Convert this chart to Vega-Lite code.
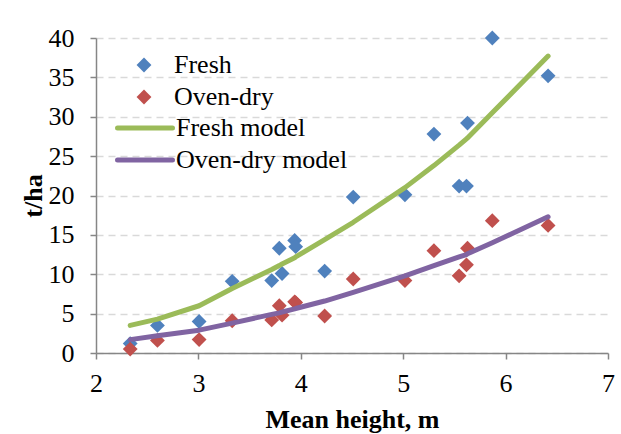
{
  "$schema": "https://vega.github.io/schema/vega-lite/v6.json",
  "autosize": "none",
  "width": 512,
  "height": 315,
  "padding": {"left": 96, "top": 38, "right": 13, "bottom": 81},
  "background": "white",
  "config": {
    "view": {"stroke": null},
    "font": "Liberation Serif",
    "axis": {
      "labelFont": "Liberation Serif",
      "labelFontSize": 26,
      "labelColor": "#000000",
      "labelFlush": false,
      "labelOverlap": false,
      "titleFont": "Liberation Serif",
      "titleFontSize": 26,
      "titleFontWeight": "bold",
      "titleColor": "#000000",
      "domainColor": "#868686",
      "domainWidth": 1.5,
      "tickColor": "#868686",
      "tickWidth": 1.5,
      "tickSize": 6
    },
    "legend": {
      "labelFont": "Liberation Serif",
      "labelFontSize": 26,
      "labelColor": "#000000",
      "labelLimit": 400,
      "padding": 0,
      "rowPadding": 6
    }
  },
  "datasets": {
    "obs": [
      {"h": 2.334, "v": 1.2, "s": "Fresh"},
      {"h": 2.60, "v": 3.5, "s": "Fresh"},
      {"h": 3.007, "v": 4.0, "s": "Fresh"},
      {"h": 3.33, "v": 9.1, "s": "Fresh"},
      {"h": 3.716, "v": 9.2, "s": "Fresh"},
      {"h": 3.79, "v": 13.3, "s": "Fresh"},
      {"h": 3.817, "v": 10.1, "s": "Fresh"},
      {"h": 3.94, "v": 14.3, "s": "Fresh"},
      {"h": 3.95, "v": 13.5, "s": "Fresh"},
      {"h": 4.233, "v": 10.4, "s": "Fresh"},
      {"h": 4.512, "v": 19.8, "s": "Fresh"},
      {"h": 5.017, "v": 20.1, "s": "Fresh"},
      {"h": 5.30, "v": 27.8, "s": "Fresh"},
      {"h": 5.546, "v": 21.2, "s": "Fresh"},
      {"h": 5.618, "v": 21.2, "s": "Fresh"},
      {"h": 5.628, "v": 29.2, "s": "Fresh"},
      {"h": 5.87, "v": 40.0, "s": "Fresh"},
      {"h": 6.415, "v": 35.2, "s": "Fresh"},
      {"h": 2.334, "v": 0.5, "s": "Oven-dry"},
      {"h": 2.60, "v": 1.6, "s": "Oven-dry"},
      {"h": 3.007, "v": 1.7, "s": "Oven-dry"},
      {"h": 3.33, "v": 4.1, "s": "Oven-dry"},
      {"h": 3.716, "v": 4.2, "s": "Oven-dry"},
      {"h": 3.79, "v": 6.0, "s": "Oven-dry"},
      {"h": 3.817, "v": 4.8, "s": "Oven-dry"},
      {"h": 3.94, "v": 6.5, "s": "Oven-dry"},
      {"h": 3.95, "v": 6.4, "s": "Oven-dry"},
      {"h": 4.233, "v": 4.7, "s": "Oven-dry"},
      {"h": 4.512, "v": 9.4, "s": "Oven-dry"},
      {"h": 5.017, "v": 9.2, "s": "Oven-dry"},
      {"h": 5.30, "v": 13.0, "s": "Oven-dry"},
      {"h": 5.546, "v": 9.8, "s": "Oven-dry"},
      {"h": 5.618, "v": 11.2, "s": "Oven-dry"},
      {"h": 5.628, "v": 13.3, "s": "Oven-dry"},
      {"h": 5.87, "v": 16.8, "s": "Oven-dry"},
      {"h": 6.415, "v": 16.2, "s": "Oven-dry"}
    ],
    "model": [
      {"h": 2.334, "v": 3.5, "s": "Fresh model"},
      {"h": 2.60, "v": 4.3, "s": "Fresh model"},
      {"h": 3.007, "v": 6.0, "s": "Fresh model"},
      {"h": 3.33, "v": 8.2, "s": "Fresh model"},
      {"h": 3.716, "v": 10.6, "s": "Fresh model"},
      {"h": 3.79, "v": 11.1, "s": "Fresh model"},
      {"h": 3.817, "v": 11.3, "s": "Fresh model"},
      {"h": 3.94, "v": 12.1, "s": "Fresh model"},
      {"h": 3.95, "v": 12.2, "s": "Fresh model"},
      {"h": 4.233, "v": 14.4, "s": "Fresh model"},
      {"h": 4.512, "v": 16.6, "s": "Fresh model"},
      {"h": 5.017, "v": 21.0, "s": "Fresh model"},
      {"h": 5.30, "v": 23.8, "s": "Fresh model"},
      {"h": 5.546, "v": 26.4, "s": "Fresh model"},
      {"h": 5.618, "v": 27.2, "s": "Fresh model"},
      {"h": 5.628, "v": 27.3, "s": "Fresh model"},
      {"h": 5.87, "v": 30.5, "s": "Fresh model"},
      {"h": 6.415, "v": 37.7, "s": "Fresh model"},
      {"h": 2.334, "v": 1.7, "s": "Oven-dry model"},
      {"h": 2.60, "v": 2.2, "s": "Oven-dry model"},
      {"h": 3.007, "v": 2.9, "s": "Oven-dry model"},
      {"h": 3.33, "v": 3.8, "s": "Oven-dry model"},
      {"h": 3.716, "v": 4.9, "s": "Oven-dry model"},
      {"h": 3.79, "v": 5.1, "s": "Oven-dry model"},
      {"h": 3.817, "v": 5.2, "s": "Oven-dry model"},
      {"h": 3.94, "v": 5.6, "s": "Oven-dry model"},
      {"h": 3.95, "v": 5.65, "s": "Oven-dry model"},
      {"h": 4.233, "v": 6.6, "s": "Oven-dry model"},
      {"h": 4.512, "v": 7.7, "s": "Oven-dry model"},
      {"h": 5.017, "v": 9.8, "s": "Oven-dry model"},
      {"h": 5.30, "v": 11.1, "s": "Oven-dry model"},
      {"h": 5.546, "v": 12.2, "s": "Oven-dry model"},
      {"h": 5.618, "v": 12.5, "s": "Oven-dry model"},
      {"h": 5.628, "v": 12.6, "s": "Oven-dry model"},
      {"h": 5.87, "v": 14.0, "s": "Oven-dry model"},
      {"h": 6.415, "v": 17.3, "s": "Oven-dry model"}
    ]
  },
  "layer": [
    {
      "data": {"name": "obs"},
      "mark": {"type": "point", "shape": "diamond", "filled": true, "size": 220, "opacity": 1},
      "encoding": {
        "x": {
          "field": "h", "type": "quantitative",
          "scale": {"domain": [2, 7], "nice": false, "zero": false},
          "axis": {"values": [2, 3, 4, 5, 6, 7], "tickCount": 10, "format": "d", "grid": false, "title": "Mean height, m", "labelFont": "Liberation Serif", "labelFontSize": 26, "labelFlush": false, "labelPadding": 11, "titlePadding": 10}
        },
        "y": {
          "field": "v", "type": "quantitative",
          "scale": {"domain": [0, 40], "nice": false},
          "axis": {"values": [0, 5, 10, 15, 20, 25, 30, 35, 40], "tickCount": 12, "format": "d", "labelOverlap": false, "grid": true, "gridColor": "#D9D9D9", "gridDash": [7, 5], "gridWidth": 1.5, "title": "t/ha", "labelFont": "Liberation Serif", "labelFontSize": 26, "labelPadding": 16, "titlePadding": 2}
        },
        "color": {
          "field": "s", "type": "nominal",
          "scale": {"domain": ["Fresh", "Oven-dry"], "range": ["#4F81BD", "#C0504D"]},
          "legend": {"title": null, "orient": "none", "legendX": 35, "legendY": 14, "symbolType": "diamond", "symbolSize": 220, "symbolStrokeWidth": 0, "labelOffset": 17, "labelFont": "Liberation Serif", "labelFontSize": 26, "labelLimit": 400}
        }
      }
    },
    {
      "data": {"name": "model"},
      "mark": {"type": "line", "strokeWidth": 5, "strokeCap": "round", "strokeJoin": "round"},
      "encoding": {
        "x": {"field": "h", "type": "quantitative"},
        "y": {"field": "v", "type": "quantitative"},
        "order": {"field": "h", "type": "quantitative"},
        "stroke": {
          "field": "s", "type": "nominal",
          "scale": {"domain": ["Fresh model", "Oven-dry model"], "range": ["#9BBB59", "#8064A2"]},
          "legend": {"title": null, "orient": "none", "legendX": 36, "legendY": 77, "rowPadding": 6, "symbolType": "M-3,0H3", "symbolSize": 336, "symbolStrokeWidth": 5, "labelOffset": 18, "labelFont": "Liberation Serif", "labelFontSize": 26, "labelLimit": 400,
            "encode": {"symbols": {"update": {"strokeCap": {"value": "round"}}}}}
        }
      }
    }
  ]
}
